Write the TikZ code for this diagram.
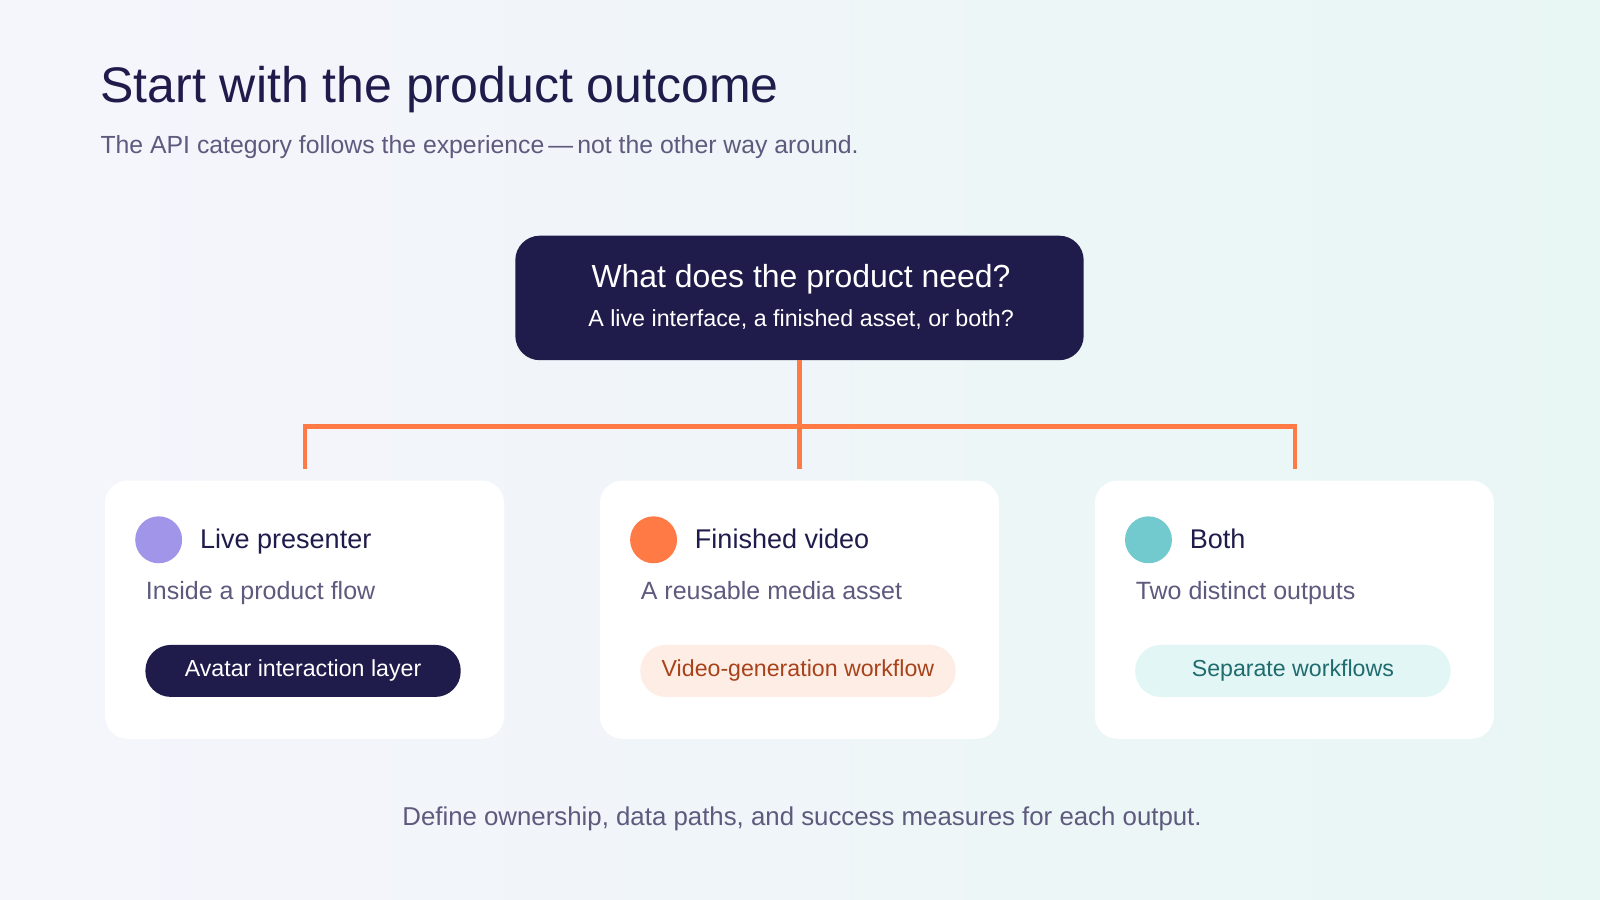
\documentclass[tikz,border=0pt]{standalone}
\usepackage{fontspec}
\setmainfont{Liberation Sans}
\definecolor{navy}{HTML}{1F1B4B}
\definecolor{subg}{HTML}{5E5A7E}
\definecolor{orng}{HTML}{FF7A45}
\definecolor{purp}{HTML}{A095E8}
\definecolor{teal}{HTML}{72C9CE}
\definecolor{pillo}{HTML}{FDEDE4}
\definecolor{pillot}{HTML}{A8421A}
\definecolor{pillt}{HTML}{E3F6F6}
\definecolor{pilltt}{HTML}{1F6B6E}
\definecolor{bgl}{HTML}{F5F5FC}
\definecolor{bgr}{HTML}{E8F6F4}
\begin{document}
\begin{tikzpicture}[x=1pt,y=-1pt,
  card/.style={fill=white,rounded corners=22pt,minimum width=391pt,minimum height=253pt,draw=none},
  dot/.style={circle,minimum size=46pt,inner sep=0pt},
  ctitle/.style={anchor=base west,text=navy,font=\fontsize{26.5}{30}\selectfont},
  csub/.style={anchor=base west,text=subg,font=\fontsize{24.5}{28}\selectfont},
  pill/.style={rounded corners=25pt,minimum width=309pt,minimum height=51pt,font=\fontsize{22.7}{26}\selectfont},
  conn/.style={draw=orng,line width=4pt}]
\fill[bgl] (0,0) rectangle (1568,882);
\shade[left color=bgl,right color=bgr] (100,0) rectangle (1568,882);
\useasboundingbox (0,0) rectangle (1568,882);
\node[anchor=west,text=navy,font=\fontsize{49}{56}\selectfont] (title) at (95,88) {Start with the product outcome};
\node[anchor=west,text=subg,font=\fontsize{24.3}{28}\selectfont] (subtitle) at (95,144) {The API category follows the experience\,—\,not the other way around.};
\node[fill=navy,rounded corners=24pt,minimum width=557pt,minimum height=122pt] (q) at (783.5,292) {};
\node[text=white,font=\fontsize{31.3}{34}\selectfont] (qt) at (785,274) {What does the product need?};
\node[text=white,font=\fontsize{22.8}{26}\selectfont] (qs) at (785,313) {A live interface, a finished asset, or both?};
\coordinate (j) at (783.5,418);
\coordinate (l) at (298.5,418);
\coordinate (r) at (1269,418);
\coordinate (ld) at (298.5,460);
\coordinate (md) at (783.5,460);
\coordinate (rd) at (1269,460);
\draw[conn] (q.south) -- (md);
\draw[conn] (ld) -- (l) -- (r) -- (rd);
\foreach \n/\cx/\col/\t/\s in {a/298.5/purp/Live presenter/Inside a product flow, b/783.5/orng/Finished video/A reusable media asset, c/1268.5/teal/Both/Two distinct outputs}{
  \node[card] (card\n) at (\cx,597.5) {};
  \node[dot,fill=\col] (dot\n) at (\cx-143,529) {};
  \node[ctitle] (ct\n) at (\cx-106,537.5) {\t};
  \node[csub] (cs\n) at (\cx-159,587.5) {\s};
}
\node[pill,fill=navy,text=white] (pa) at (297,657.5) {Avatar interaction layer};
\node[pill,fill=pillo,text=pillot] (pb) at (782,657.5) {Video-generation workflow};
\node[pill,fill=pillt,text=pilltt] (pc) at (1267,657.5) {Separate workflows};
\node[text=subg,font=\fontsize{25.3}{28}\selectfont] (foot) at (786,802) {Define ownership, data paths, and success measures for each output.};
\end{tikzpicture}
\end{document}
